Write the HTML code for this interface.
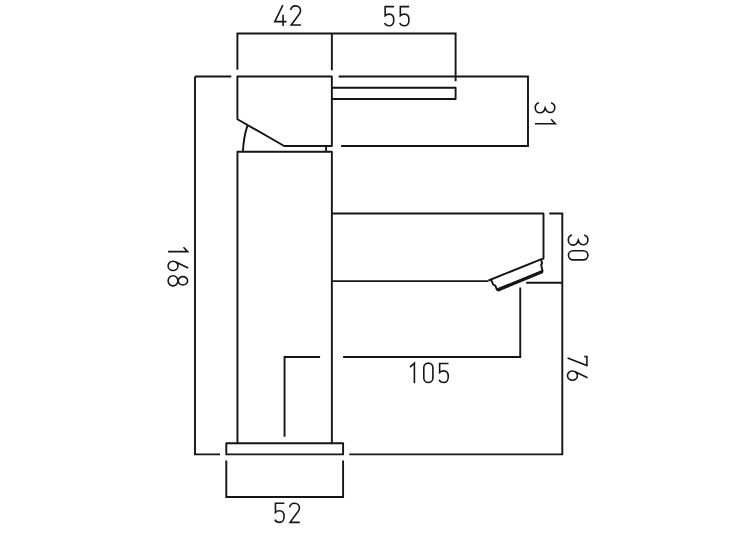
<!DOCTYPE html>
<html><head><meta charset="utf-8"><style>
html,body{margin:0;padding:0;background:#fff;width:750px;height:534px;overflow:hidden;}
svg{display:block;}
</style></head><body>
<svg width="750" height="534" viewBox="0 0 750 534">
<rect width="750" height="534" fill="#fff"/>
<g fill="none" stroke="#151515" stroke-width="1.9" stroke-linejoin="miter" stroke-linecap="butt">

<path d="M195.0,76.5 H231.3"/>
<path d="M195.0,76.5 V454.4 H220"/>
<path d="M349.3,454.4 H562.3 V213.5 H549.3"/>
<path d="M526.2,282.75 H562.3"/>
<path d="M338.7,76.5 H528 V146.05 H341.1"/>
<path d="M237.4,69.7 V33.5 H455.6 V81.3"/>
<path d="M331.85,33.5 V70.2"/>
<path d="M237.4,76.5 V119.2 L284.2,146.0 H331.85 V76.5 Z" stroke-linejoin="round"/>
<path d="M331.8,87.7 H455.6 V98.95 H331.8" stroke-linejoin="round"/>
<path d="M326.1,145.9 V151.8"/>
<path d="M247.5,125.4 Q243.6,137 242.9,151.8"/>
<path d="M237.45,443.3 V151.75 H331.85 V443.3" stroke-linejoin="round"/>
<path d="M331.85,213.5 H543.5 V258.6 L540.9,259.4" stroke-linejoin="round"/>
<path d="M331.85,281.15 H488.5"/>
<path d="M226.3,443.3 H343.1 V454.4 H226.3 Z" stroke-linejoin="round"/>
<path d="M226.3,460.6 V496.95 H343.1 V460.6"/>
<path d="M284.55,436.85 V357.0 H320.1"/>
<path d="M343.1,357.0 H520.25 V287.4"/>


<path d="M488.5,280.5 L540.9,259.4 L542.1,263 L541.2,265 L542.6,271.2 L497.1,289.9 L495.2,285.5 L493.2,284.6 L491.4,280.3" stroke-linejoin="round"/>
<path d="M497.3,290.1 L542.7,271.5" stroke-width="3.3"/>

</g>
<g fill="none" stroke="#161616" stroke-width="1.6" stroke-linejoin="miter" stroke-linecap="butt">
<path transform="translate(274.0,5.0)" d="M8.85,0.1 L0.8,16.6 H12.5 M9.1,9.8 V21.0"/>
<path transform="translate(290.3,5.0)" d="M0.4,5.0 C0.9,2.3 2.9,0.85 5.3,0.85 C8.2,0.85 10.2,2.9 10.2,5.4 C10.2,7.0 9.6,8.2 8.7,9.4 L0.9,19.95 H10.6"/>
<path transform="translate(384.3,5.8)" d="M9.7,0.85 H0.85 V9.9 C2,8.8 3.5,8.3 5,8.3 C7.8,8.3 9.5,10.6 9.5,14.1 C9.5,17.6 7.6,19.95 5,19.95 C2.6,19.95 1,18.8 0.3,17.2"/>
<path transform="translate(399.5,5.8)" d="M9.7,0.85 H0.85 V9.9 C2,8.8 3.5,8.3 5,8.3 C7.8,8.3 9.5,10.6 9.5,14.1 C9.5,17.6 7.6,19.95 5,19.95 C2.6,19.95 1,18.8 0.3,17.2"/>
<path transform="translate(409.0,362.7)" d="M1.0,4.5 L5.4,0.35 V20.6"/>
<path transform="translate(423.0,362.5)" d="M0.8,5.15 A4.55,4.55 0 0 1 9.9,5.15 V15.5 A4.55,4.55 0 0 1 0.8,15.5 Z"/>
<path transform="translate(438.8,362.6)" d="M9.7,0.85 H0.85 V9.9 C2,8.8 3.5,8.3 5,8.3 C7.8,8.3 9.5,10.6 9.5,14.1 C9.5,17.6 7.6,19.95 5,19.95 C2.6,19.95 1,18.8 0.3,17.2"/>
<path transform="translate(274.6,502.4)" d="M9.7,0.85 H0.85 V9.9 C2,8.8 3.5,8.3 5,8.3 C7.8,8.3 9.5,10.6 9.5,14.1 C9.5,17.6 7.6,19.95 5,19.95 C2.6,19.95 1,18.8 0.3,17.2"/>
<path transform="translate(289.2,502.4)" d="M0.4,5.0 C0.9,2.3 2.9,0.85 5.3,0.85 C8.2,0.85 10.2,2.9 10.2,5.4 C10.2,7.0 9.6,8.2 8.7,9.4 L0.9,19.95 H10.6"/>
<path transform="matrix(0,1,-1,0,188.0,246.2)" d="M1.0,4.5 L5.4,0.35 V19.9"/>
<path transform="matrix(0,1,-1,0,188.3,260.5)" d="M7.5,0.1 L1.33,13.05 M0.8,15.25 A4.6,4.95 0 1 0 10.0,15.25 A4.6,4.95 0 1 0 0.8,15.25 Z"/>
<path transform="matrix(0,1,-1,0,188.3,275.3)" d="M1.35,5.4 A4.15,4.7 0 1 0 9.65,5.4 A4.15,4.7 0 1 0 1.35,5.4 Z M0.4,15.3 A5.1,4.9 0 1 0 10.6,15.3 A5.1,4.9 0 1 0 0.4,15.3 Z"/>
<path transform="matrix(0,1,-1,0,555.4,102.2)" d="M0.5,4.3 C1.3,1.9 3.1,0.6 5.3,0.6 C8.2,0.6 10.3,2.7 10.3,5.3 C10.3,7.6 8.6,9.3 5.8,10.25 C8.9,11.0 10.6,13.0 10.6,15.4 C10.6,18.2 8.4,20.2 5.5,20.2 C3.0,20.2 1.2,18.8 0.5,16.4"/>
<path transform="matrix(0,1,-1,0,555.6,118.3)" d="M1.0,4.5 L5.4,0.35 V20.6"/>
<path transform="matrix(0,1,-1,0,588.5,234.5)" d="M0.5,4.3 C1.3,1.9 3.1,0.6 5.3,0.6 C8.2,0.6 10.3,2.7 10.3,5.3 C10.3,7.6 8.6,9.3 5.8,10.25 C8.9,11.0 10.6,13.0 10.6,15.4 C10.6,18.2 8.4,20.2 5.5,20.2 C3.0,20.2 1.2,18.8 0.5,16.4"/>
<path transform="matrix(0,1,-1,0,588.5,250.0)" d="M0.8,5.15 A4.55,4.55 0 0 1 9.9,5.15 V15.5 A4.55,4.55 0 0 1 0.8,15.5 Z"/>
<path transform="matrix(0,1,-1,0,587.7,355.6)" d="M1.0,3.4 V0.8 H9.9 L2.5,20.1"/>
<path transform="matrix(0,1,-1,0,587.7,370.2)" d="M7.5,0.1 L1.33,13.05 M0.8,15.25 A4.6,4.95 0 1 0 10.0,15.25 A4.6,4.95 0 1 0 0.8,15.25 Z"/>
</g>
</svg>
</body></html>
